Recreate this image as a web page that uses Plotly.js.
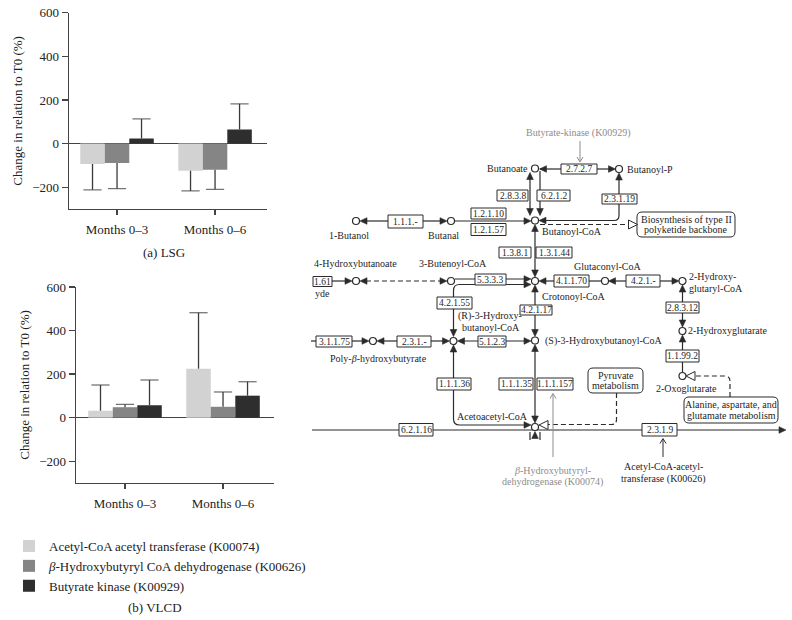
<!DOCTYPE html>
<html><head><meta charset="utf-8">
<script src="https://cdn.plot.ly/plotly-3.0.1.min.js"></script>
<style>html,body{margin:0;padding:0;background:#fff}#chart{width:792px;height:620px}</style>
</head><body><div id="chart"></div>
<script>
// ---------------- data ----------------
const categories = ['Months 0–3', 'Months 0–6'];
const seriesNames = ['Acetyl-CoA acetyl transferase (K00074)', '<i>β</i>-Hydroxybutyryl CoA dehydrogenase (K00626)', 'Butyrate kinase (K00929)'];
const seriesColors = ['#d2d2d2', '#858585', '#2e2e2e'];
const lsgAcetyl = [-94, -125];
const lsgHydroxy = [-89, -120];
const lsgButyrate = [23, 65];
const lsgAcetylSD = [118, 92];
const lsgHydroxySD = [118, 90];
const lsgButyrateSD = [90, 117];
const vlcdAcetyl = [32, 225];
const vlcdHydroxy = [48, 50];
const vlcdButyrate = [57, 101];
const vlcdAcetylSD = [118, 257];
const vlcdHydroxySD = [13, 68];
const vlcdButyrateSD = [116, 64];
const yTicks = [-200, 0, 200, 400, 600];
const panelCaptions = ['(a) LSG', '(b) VLCD'];
const yTitle = 'Change in relation to T0 (%)';

// ---------------- layout helpers ----------------
const W = 792, H = 620;
const FONT = '"Liberation Serif", "Times New Roman", serif';
const INK = '#2b2b2b';
const GRAY = '#8c8c8c';
const barW = 0.25;
const offsets = [-0.25, 0, 0.25];

function panelTraces(means, sds, xa, ya, showLegend) {
  const tr = [];
  means.forEach((m, k) => {
    tr.push({type: 'bar', x: categories.map((c, i) => i + offsets[k]), y: m, width: barW,
      marker: {color: seriesColors[k], line: {width: 0}}, name: seriesNames[k],
      xaxis: xa, yaxis: ya, showlegend: showLegend, legendgroup: 's' + k, hoverinfo: 'skip'});
  });
  means.forEach((m, k) => {
    const wx = [], wy = [], ws = [];
    m.forEach((v, i) => {
      const x = i + offsets[k];
      const tip = v + (v < 0 ? -1 : 1) * sds[k][i];
      wx.push(x, x, null); wy.push(v, tip, null); ws.push(0, 13, 0);
    });
    tr.push({type: 'scatter', mode: 'lines+markers', x: wx, y: wy,
      line: {color: '#3a3a3a', width: 1.3},
      marker: {symbol: 'line-ew-open', size: ws, color: '#3a3a3a', line: {color: '#3a3a3a', width: 1.3}},
      xaxis: xa, yaxis: ya, showlegend: false, hoverinfo: 'skip'});
  });
  return tr;
}

const data = [].concat(
  panelTraces([lsgAcetyl, lsgHydroxy, lsgButyrate], [lsgAcetylSD, lsgHydroxySD, lsgButyrateSD], 'x', 'y', true),
  panelTraces([vlcdAcetyl, vlcdHydroxy, vlcdButyrate], [vlcdAcetylSD, vlcdHydroxySD, vlcdButyrateSD], 'x2', 'y2', false)
);

const tickFont = {family: FONT, size: 13, color: '#222'};
function xAxis(domain, anchor, range) {
  return {domain: domain, anchor: anchor, range: range, tickvals: [0, 1], ticktext: categories,
    showline: true, linecolor: '#444', linewidth: 1.3, ticks: 'outside', ticklen: 5, tickwidth: 1.3,
    tickcolor: '#444', showgrid: false, zeroline: false, fixedrange: true, tickfont: tickFont, ticklabelstandoff: 3};
}
function yAxis(domain, anchor) {
  return {domain: domain, anchor: anchor, range: [-300, 600], tickvals: yTicks,
    showline: true, linecolor: '#444', linewidth: 1.3, ticks: 'outside', ticklen: 6, tickwidth: 1.3,
    tickcolor: '#444', showgrid: false, zeroline: true, zerolinecolor: '#444', zerolinewidth: 1.3,
    fixedrange: true, tickfont: tickFont,
    title: {text: yTitle, font: {family: FONT, size: 13, color: '#222'}, standoff: 6}};
}

// ---------------- pathway diagram (layout shapes) ----------------
const px = x => x / W, py = y => 1 - y / H;
const P = q => px(q[0]).toFixed(5) + ',' + py(q[1]).toFixed(5);
const lines = [], boxes = [], heads = [], annotations = [];

function seg(x1, y1, x2, y2, opt) {
  opt = opt || {};
  lines.push({type: 'line', xref: 'paper', yref: 'paper', x0: px(x1), y0: py(y1), x1: px(x2), y1: py(y2),
    line: {color: opt.color || INK, width: opt.w || 1.2, dash: opt.dash || 'solid'}});
}
function polyPath(pts, r, close) {
  let d = 'M' + P(pts[0]);
  for (let i = 1; i < pts.length; i++) {
    const p = pts[i];
    if (r > 0 && i < pts.length - 1) {
      const a = pts[i - 1], b = pts[i + 1];
      const da = Math.hypot(a[0] - p[0], a[1] - p[1]), db = Math.hypot(b[0] - p[0], b[1] - p[1]);
      const p1 = [p[0] + (a[0] - p[0]) * r / da, p[1] + (a[1] - p[1]) * r / da];
      const p2 = [p[0] + (b[0] - p[0]) * r / db, p[1] + (b[1] - p[1]) * r / db];
      d += 'L' + P(p1) + 'Q' + P(p) + ' ' + P(p2);
    } else d += 'L' + P(p);
  }
  if (close) d += 'Z';
  return d;
}
function rline(pts, r, opt) {
  opt = opt || {};
  lines.push({type: 'path', xref: 'paper', yref: 'paper', path: polyPath(pts, r, false),
    line: {color: opt.color || INK, width: 1.2, dash: opt.dash || 'solid'}});
}
function triPts(x, y, dir, L, h) {
  if (dir === 'r') return [[x, y], [x - L, y - h], [x - L, y + h]];
  if (dir === 'l') return [[x, y], [x + L, y - h], [x + L, y + h]];
  if (dir === 'u') return [[x, y], [x - h, y + L], [x + h, y + L]];
  return [[x, y], [x - h, y - L], [x + h, y - L]];
}
function arrow(x, y, dir) {
  heads.push({type: 'path', xref: 'paper', yref: 'paper', path: polyPath(triPts(x, y, dir, 7, 3.3), 0, true),
    fillcolor: INK, line: {color: INK, width: 0.6}});
}
function openTri(x, y, dir) {
  heads.push({type: 'path', xref: 'paper', yref: 'paper', path: polyPath(triPts(x, y, dir, 9, 4.5), 0, true),
    fillcolor: '#fff', line: {color: INK, width: 1}});
}
function chevron(x, y, dir, color) {
  const t = triPts(x, y, dir, 5, 3);
  heads.push({type: 'path', xref: 'paper', yref: 'paper', path: polyPath([t[1], t[0], t[2]], 0, false),
    line: {color: color, width: 1}});
}
function box(x0, y0, x1, y1, label) {
  boxes.push({type: 'rect', xref: 'paper', yref: 'paper', x0: px(x0), y0: py(y1), x1: px(x1), y1: py(y0),
    fillcolor: '#fff', line: {color: INK, width: 1}});
  text((x0 + x1) / 2, (y0 + y1) / 2 + 0.3, label, 'center', 9.5);
}
function rbox(x0, y0, x1, y1, labels) {
  const mx = (x0 + x1) / 2;
  boxes.push({type: 'path', xref: 'paper', yref: 'paper',
    path: polyPath([[mx, y0], [x1, y0], [x1, y1], [x0, y1], [x0, y0], [mx, y0]], 5, true),
    fillcolor: '#fff', line: {color: INK, width: 1}});
  const n = labels.length;
  labels.forEach((t, i) => text(mx, (y0 + y1) / 2 + (i - (n - 1) / 2) * 10.5, t, 'center', 10));
}
function node(x, y) {
  heads.push({type: 'circle', xref: 'paper', yref: 'paper', x0: px(x - 3.5), x1: px(x + 3.5), y0: py(y + 3.5), y1: py(y - 3.5),
    fillcolor: '#fff', line: {color: INK, width: 1.2}});
}
function text(x, y, t, anchor, size, color) {
  annotations.push({xref: 'paper', yref: 'paper', x: px(x), y: py(y), text: t, showarrow: false,
    xanchor: anchor || 'center', yanchor: 'middle', borderpad: 0,
    font: {family: FONT, size: size || 10, color: color || '#1e1e1e'}});
}

// connecting lines with arrowheads
seg(540, 169, 561, 169); arrow(539.5, 169, 'l');
seg(597, 169, 612, 169); arrow(615.5, 169, 'r');
seg(619, 194, 619, 176); arrow(619, 173, 'u');
rline([[619, 204], [619, 220.5], [543, 220.5]], 5); arrow(539, 220.5, 'l');
seg(530, 178, 530, 210); arrow(530, 172.5, 'u'); arrow(530, 215.5, 'd');
seg(540, 171, 540, 210); arrow(540, 215.5, 'd');
seg(364, 221, 388, 221); arrow(360, 221, 'l');
seg(423, 221, 443, 221); arrow(447, 221, 'r');
seg(455, 221, 526, 221); arrow(531, 221, 'r');
seg(540, 224.5, 629, 224.5, {dash: '5px,3px'}); openTri(637.5, 224.5, 'r');
seg(535, 230, 535, 271); arrow(535, 224.5, 'u'); arrow(535, 277, 'd');
seg(332, 281, 346, 281); arrow(352, 281, 'r');
seg(366, 281, 441, 281, {dash: '5px,3px'}); arrow(360, 281, 'l'); arrow(447, 281, 'r');
seg(455, 279, 526, 279); arrow(531, 279, 'r');
rline([[453.5, 331], [453.5, 284.5], [526, 284.5]], 6); arrow(453.5, 336.5, 'd'); arrow(531, 284.5, 'r');
seg(545, 281, 554, 281); arrow(539, 281, 'l');
seg(589, 281, 601.5, 281);
seg(614, 281, 626, 281); arrow(608.5, 281, 'l');
seg(660, 281, 673, 281); arrow(679, 281, 'r');
seg(682.5, 291, 682.5, 321); arrow(682.5, 285, 'u'); arrow(682.5, 327, 'd');
seg(682.5, 341, 682.5, 372.5); arrow(682.5, 335, 'u');
rline([[730, 397], [730, 376], [695, 376]], 5, {dash: '5px,3px'}); openTri(686, 376, 'l');
seg(535, 291, 535, 331); arrow(535, 285, 'u'); arrow(535, 336.5, 'd');
seg(463, 341, 525, 341); arrow(457.5, 341, 'l'); arrow(531, 341, 'r');
seg(431, 341, 444, 341); arrow(449.5, 341, 'r');
seg(383, 341, 397, 341); arrow(377, 341, 'l');
seg(352, 341, 363, 341); arrow(369, 341, 'r');
seg(311, 341, 316, 341);
rline([[453.5, 351], [453.5, 425], [526, 425]], 6); arrow(453.5, 345, 'u'); arrow(531, 425, 'r');
seg(535, 351, 535, 417); arrow(535, 344.5, 'u'); arrow(535, 423, 'd');
seg(312, 430, 779, 430); arrow(786, 430, 'r');
arrow(535, 431.5, 'u'); seg(530, 432, 530, 440); seg(540, 432, 540, 440);
rline([[616.5, 393], [616.5, 424.5], [548, 424.5]], 5, {dash: '5px,3px'}); openTri(539, 425, 'l');
seg(580, 141, 580, 161, {color: GRAY, w: 1}); chevron(580, 162, 'd', GRAY);
seg(553, 394, 553, 457, {color: GRAY, w: 1}); chevron(553, 393.5, 'u', GRAY);
seg(663, 439, 663, 457, {color: INK, w: 1}); chevron(663, 438.5, 'u', INK);

// enzyme boxes
box(561, 164, 597, 174, '2.7.2.7');
box(497, 190, 528, 201, '2.8.3.8');
box(537, 190, 570, 201, '6.2.1.2');
box(602, 194, 637, 204, '2.3.1.19');
box(388, 215, 423, 228, '1.1.1.-');
box(471, 208, 506, 219, '1.2.1.10');
box(471, 223.5, 506, 235.5, '1.2.1.57');
box(499, 247, 531, 258, '1.3.8.1');
box(536, 247, 572, 258, '1.3.1.44');
box(313, 276.5, 332, 286.5, '1.61');
box(475, 274, 506, 285, '5.3.3.3');
box(554, 275, 589, 287, '4.1.1.70');
box(626, 275, 660, 287, '4.2.1.-');
box(666, 302, 699, 313, '2.8.3.12');
box(437, 297, 472, 309, '4.2.1.55');
box(520, 305, 552, 315, '4.2.1.17');
box(316, 336, 352, 347, '3.1.1.75');
box(397, 336, 431, 347, '2.3.1.-');
box(478, 336, 506, 347, '5.1.2.3');
box(666, 350, 699, 362, '1.1.99.2');
box(437, 378, 471, 390, '1.1.1.36');
box(499, 378, 533, 390, '1.1.1.35');
box(537, 378, 573, 390, '1.1.1.157');
box(399, 423.5, 433, 436, '6.2.1.16');
box(642, 423.5, 677, 436, '2.3.1.9');
rbox(637, 212, 735, 237, ['Biosynthesis of type II', 'polyketide backbone']);
rbox(588, 368, 643, 393, ['Pyruvate', 'metabolism']);
rbox(684, 397, 778, 423, ['Alanine, aspartate, and', 'glutamate metabolism']);

// compound nodes
[[535, 168.5], [619, 169], [535, 220.5], [356, 221], [451, 221], [356, 281], [451, 281], [535, 281],
 [605, 281], [682.5, 281], [682.5, 331], [682.5, 376], [453.5, 341], [535, 340.5], [373, 341], [535, 427]]
  .forEach(n => node(n[0], n[1]));

// compound and enzyme labels
text(578, 133, 'Butyrate-kinase (K00929)', 'center', 10, GRAY);
text(529, 168, 'Butanoate', 'right');
text(626, 169, 'Butanoyl-P', 'left');
text(541, 231.5, 'Butanoyl-CoA', 'left');
text(349, 236, '1-Butanol');
text(444, 236, 'Butanal');
text(355.5, 263, '4-Hydroxybutanoate');
text(453, 263, '3-Butenoyl-CoA');
text(607, 266.5, 'Glutaconyl-CoA');
text(688, 276.5, '2-Hydroxy-', 'left');
text(688, 288, 'glutaryl-CoA', 'left');
text(541, 296.5, 'Crotonoyl-CoA', 'left');
text(314, 294, 'yde', 'left');
text(490, 316, '(R)-3-Hydroxy-');
text(491, 327, 'butanoyl-CoA');
text(544, 340.5, '(S)-3-Hydroxybutanoyl-CoA', 'left');
text(687, 331, '2-Hydroxyglutarate', 'left');
text(378.5, 358, 'Poly-<i>β</i>-hydroxybutyrate');
text(686, 388, '2-Oxoglutarate');
text(492, 416, 'Acetoacetyl-CoA');
text(552, 470.5, '<i>β</i>-Hydroxybutyryl-', 'center', 10, GRAY);
text(552, 481.5, 'dehydrogenase (K00074)', 'center', 10, GRAY);
text(663, 467, 'Acetyl-CoA-acetyl-');
text(663, 478.5, 'transferase (K00626)');

// panel captions
text(164, 252, panelCaptions[0], 'center', 13, '#222');
text(155, 607, panelCaptions[1], 'center', 13, '#222');

const layout = {
  width: W, height: H, margin: {l: 0, r: 0, t: 0, b: 0},
  paper_bgcolor: '#fff', plot_bgcolor: 'rgba(0,0,0,0)',
  barmode: 'overlay', hovermode: false, showlegend: true,
  font: {family: FONT, size: 13, color: '#222'},
  xaxis: xAxis([69 / W, 267 / W], 'y', [-0.49, 1.53]),
  yaxis: yAxis([1 - 209 / H, 1 - 12.7 / H], 'x'),
  xaxis2: xAxis([76 / W, 274 / W], 'y2', [-0.5, 1.52]),
  yaxis2: yAxis([1 - 483 / H, 1 - 287 / H], 'x2'),
  legend: {x: 9 / W, xanchor: 'left', y: 1 - 531 / H, yanchor: 'top', orientation: 'v',
    font: {family: FONT, size: 13, color: '#222'}, bgcolor: 'rgba(0,0,0,0)', traceorder: 'normal',
    itemclick: false, itemdoubleclick: false},
  shapes: lines.concat(boxes, heads),
  annotations: annotations
};

Plotly.newPlot('chart', data, layout, {displayModeBar: false, staticPlot: true});
</script>
</body></html>
